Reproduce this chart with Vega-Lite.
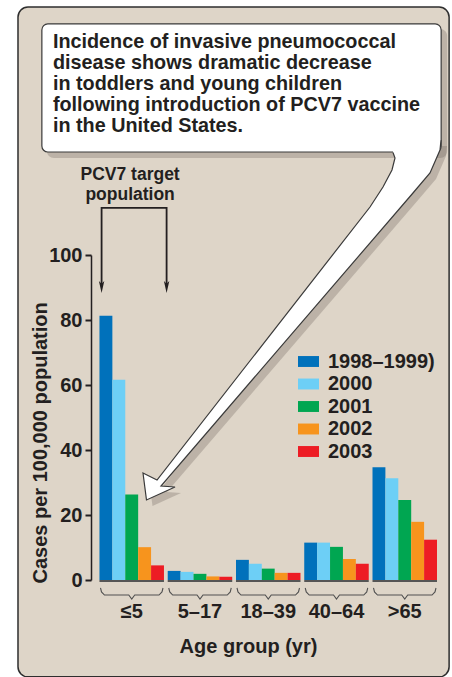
{
  "$schema": "https://vega.github.io/schema/vega-lite/v6.json",
  "width": 346,
  "height": 325,
  "autosize": {"type": "none"},
  "padding": {"left": 91, "top": 255, "right": 15, "bottom": 97},
  "background": "white",
  "config": {
    "view": {"stroke": null},
    "font": "Liberation Sans",
    "text": {"font": "Liberation Sans", "fontWeight": "bold", "color": "#231f20"}
  },
  "datasets": {
    "bars": [
      {"age": "≤5", "year": "1998–1999)", "cases": 81.3},
      {"age": "≤5", "year": "2000", "cases": 61.6},
      {"age": "≤5", "year": "2001", "cases": 26.3},
      {"age": "≤5", "year": "2002", "cases": 10.1},
      {"age": "≤5", "year": "2003", "cases": 4.5},
      {"age": "5–17", "year": "1998–1999)", "cases": 2.8},
      {"age": "5–17", "year": "2000", "cases": 2.5},
      {"age": "5–17", "year": "2001", "cases": 1.9},
      {"age": "5–17", "year": "2002", "cases": 1.1},
      {"age": "5–17", "year": "2003", "cases": 1.0},
      {"age": "18–39", "year": "1998–1999)", "cases": 6.2},
      {"age": "18–39", "year": "2000", "cases": 5.0},
      {"age": "18–39", "year": "2001", "cases": 3.5},
      {"age": "18–39", "year": "2002", "cases": 2.2},
      {"age": "18–39", "year": "2003", "cases": 2.2},
      {"age": "40–64", "year": "1998–1999)", "cases": 11.5},
      {"age": "40–64", "year": "2000", "cases": 11.5},
      {"age": "40–64", "year": "2001", "cases": 10.2},
      {"age": "40–64", "year": "2002", "cases": 6.5},
      {"age": "40–64", "year": "2003", "cases": 5.0},
      {"age": ">65", "year": "1998–1999)", "cases": 34.7},
      {"age": ">65", "year": "2000", "cases": 31.3},
      {"age": ">65", "year": "2001", "cases": 24.6},
      {"age": ">65", "year": "2002", "cases": 17.9},
      {"age": ">65", "year": "2003", "cases": 12.4}
    ],
    "groups": [
      {"age": "≤5"}, {"age": "5–17"}, {"age": "18–39"}, {"age": "40–64"}, {"age": ">65"}
    ],
    "panel": [{"u": -21.1, "u2": 103.5, "v": 176.3, "v2": -29.8}],
    "callout": [{"u": -14.2, "u2": 101.2, "v": 171.1, "v2": 131.7}],
    "calloutText": [
      {"u": -11.0, "v": 163.7, "t": "Incidence of invasive pneumococcal"},
      {"u": -11.0, "v": 157.2, "t": "disease shows dramatic decrease"},
      {"u": -11.0, "v": 150.8, "t": "in toddlers and young children"},
      {"u": -11.0, "v": 144.3, "t": "following introduction of PCV7 vaccine"},
      {"u": -11.0, "v": 137.8, "t": "in the United States."}
    ],
    "targetText": [
      {"u": 11.3, "v": 123.1, "t": "PCV7 target"},
      {"u": 11.3, "v": 116.8, "t": "population"}
    ],
    "bracket": [
      {"i": 0, "u": 3.06, "v": 90.8},
      {"i": 1, "u": 3.06, "v": 114.5},
      {"i": 2, "u": 21.85, "v": 114.5},
      {"i": 3, "u": 21.85, "v": 90.8}
    ],
    "bracketHeads": [
      {"u": 3.06, "v": 90.15},
      {"u": 21.85, "v": 90.15}
    ],
    "arrow": [
      {"i": 0, "u": 87.28, "v": 131.54},
      {"i": 1, "u": 87.86, "v": 129.85},
      {"i": 2, "u": 86.99, "v": 126.15},
      {"i": 3, "u": 84.39, "v": 120.92},
      {"i": 4, "u": 80.64, "v": 114.77},
      {"i": 5, "u": 19.08, "v": 30.77},
      {"i": 6, "u": 15.03, "v": 32.92},
      {"i": 7, "u": 16.04, "v": 24.62},
      {"i": 8, "u": 24.28, "v": 28.62},
      {"i": 9, "u": 20.23, "v": 28.92},
      {"i": 10, "u": 93.06, "v": 119.08},
      {"i": 11, "u": 97.98, "v": 125.23},
      {"i": 12, "u": 100.87, "v": 132.31},
      {"i": 13, "u": 101.16, "v": 135.38},
      {"i": 14, "u": 87.28, "v": 135.38}
    ],
    "braces": [
      {"g": 0, "i": 0, "u": 2.75, "v": -2.46}, {"g": 0, "i": 1, "u": 3.03, "v": -3.69}, {"g": 0, "i": 2, "u": 3.90, "v": -4.62},
      {"g": 0, "i": 3, "u": 10.91, "v": -4.62}, {"g": 0, "i": 4, "u": 11.78, "v": -5.85}, {"g": 0, "i": 5, "u": 12.64, "v": -4.62},
      {"g": 0, "i": 6, "u": 19.65, "v": -4.62}, {"g": 0, "i": 7, "u": 20.52, "v": -3.69}, {"g": 0, "i": 8, "u": 20.81, "v": -2.46},
      {"g": 1, "i": 0, "u": 22.47, "v": -2.46}, {"g": 1, "i": 1, "u": 22.76, "v": -3.69}, {"g": 1, "i": 2, "u": 23.62, "v": -4.62},
      {"g": 1, "i": 3, "u": 30.64, "v": -4.62}, {"g": 1, "i": 4, "u": 31.50, "v": -5.85}, {"g": 1, "i": 5, "u": 32.37, "v": -4.62},
      {"g": 1, "i": 6, "u": 39.38, "v": -4.62}, {"g": 1, "i": 7, "u": 40.25, "v": -3.69}, {"g": 1, "i": 8, "u": 40.53, "v": -2.46},
      {"g": 2, "i": 0, "u": 42.20, "v": -2.46}, {"g": 2, "i": 1, "u": 42.48, "v": -3.69}, {"g": 2, "i": 2, "u": 43.35, "v": -4.62},
      {"g": 2, "i": 3, "u": 50.36, "v": -4.62}, {"g": 2, "i": 4, "u": 51.23, "v": -5.85}, {"g": 2, "i": 5, "u": 52.09, "v": -4.62},
      {"g": 2, "i": 6, "u": 59.10, "v": -4.62}, {"g": 2, "i": 7, "u": 59.97, "v": -3.69}, {"g": 2, "i": 8, "u": 60.26, "v": -2.46},
      {"g": 3, "i": 0, "u": 61.92, "v": -2.46}, {"g": 3, "i": 1, "u": 62.21, "v": -3.69}, {"g": 3, "i": 2, "u": 63.07, "v": -4.62},
      {"g": 3, "i": 3, "u": 70.09, "v": -4.62}, {"g": 3, "i": 4, "u": 70.95, "v": -5.85}, {"g": 3, "i": 5, "u": 71.82, "v": -4.62},
      {"g": 3, "i": 6, "u": 78.83, "v": -4.62}, {"g": 3, "i": 7, "u": 79.70, "v": -3.69}, {"g": 3, "i": 8, "u": 79.98, "v": -2.46},
      {"g": 4, "i": 0, "u": 81.65, "v": -2.46}, {"g": 4, "i": 1, "u": 81.93, "v": -3.69}, {"g": 4, "i": 2, "u": 82.80, "v": -4.62},
      {"g": 4, "i": 3, "u": 89.81, "v": -4.62}, {"g": 4, "i": 4, "u": 90.68, "v": -5.85}, {"g": 4, "i": 5, "u": 91.54, "v": -4.62},
      {"g": 4, "i": 6, "u": 98.56, "v": -4.62}, {"g": 4, "i": 7, "u": 99.42, "v": -3.69}, {"g": 4, "i": 8, "u": 99.71, "v": -2.46}
    ]
  },
  "resolve": {"scale": {"x": "independent"}},
  "layer": [
    {
      "data": {"name": "panel"},
      "mark": {"type": "rect", "fill": "#ded5c8", "stroke": "#2e2e2e", "strokeWidth": 1.5, "cornerRadius": 10},
      "encoding": {
        "x": {"field": "u", "type": "quantitative", "scale": {"domain": [0, 100]}, "axis": null},
        "x2": {"field": "u2"},
        "y": {"field": "v", "type": "quantitative", "scale": {"domain": [0, 100]}, "title": "Cases per 100,000 population"},
        "y2": {"field": "v2"}
      }
    },
    {
      "data": {"name": "callout"},
      "mark": {"type": "rect", "fill": "#6e655c", "opacity": 0.3, "cornerRadius": 7, "xOffset": 5, "x2Offset": 6, "yOffset": 5, "y2Offset": 6},
      "encoding": {
        "x": {"field": "u", "type": "quantitative", "scale": {"domain": [0, 100]}, "axis": null},
        "x2": {"field": "u2"},
        "y": {"field": "v", "type": "quantitative", "scale": {"domain": [0, 100]}, "title": "Cases per 100,000 population"},
        "y2": {"field": "v2"}
      }
    },
    {
      "data": {"name": "arrow"},
      "mark": {"type": "line", "fill": "#6e655c", "stroke": null, "opacity": 0.3, "xOffset": 6, "yOffset": 6},
      "encoding": {
        "x": {"field": "u", "type": "quantitative", "scale": {"domain": [0, 100]}, "axis": null},
        "y": {"field": "v", "type": "quantitative", "scale": {"domain": [0, 100]}, "title": "Cases per 100,000 population"},
        "order": {"field": "i"}
      }
    },
    {
      "data": {"name": "callout"},
      "mark": {"type": "rect", "fill": "white", "stroke": "#3a3a3a", "strokeWidth": 1.2, "cornerRadius": 6},
      "encoding": {
        "x": {"field": "u", "type": "quantitative", "scale": {"domain": [0, 100]}, "axis": null},
        "x2": {"field": "u2"},
        "y": {"field": "v", "type": "quantitative", "scale": {"domain": [0, 100]}, "title": "Cases per 100,000 population"},
        "y2": {"field": "v2"}
      }
    },
    {
      "data": {"name": "arrow"},
      "mark": {"type": "line", "fill": "white", "stroke": null},
      "encoding": {
        "x": {"field": "u", "type": "quantitative", "scale": {"domain": [0, 100]}, "axis": null},
        "y": {"field": "v", "type": "quantitative", "scale": {"domain": [0, 100]}, "title": "Cases per 100,000 population"},
        "order": {"field": "i"}
      }
    },
    {
      "data": {"name": "arrow"},
      "transform": [{"filter": "datum.i <= 13"}],
      "mark": {"type": "line", "stroke": "#3a3a3a", "strokeWidth": 1.2, "strokeJoin": "miter"},
      "encoding": {
        "x": {"field": "u", "type": "quantitative", "scale": {"domain": [0, 100]}, "axis": null},
        "y": {"field": "v", "type": "quantitative", "scale": {"domain": [0, 100]}, "title": "Cases per 100,000 population"},
        "order": {"field": "i"}
      }
    },
    {
      "data": {"name": "calloutText"},
      "mark": {"type": "text", "align": "left", "baseline": "alphabetic", "fontSize": 19.8, "fontWeight": "bold", "font": "Liberation Sans", "color": "#231f20"},
      "encoding": {
        "x": {"field": "u", "type": "quantitative", "scale": {"domain": [0, 100]}, "axis": null},
        "y": {"field": "v", "type": "quantitative", "scale": {"domain": [0, 100]}, "title": "Cases per 100,000 population"},
        "text": {"field": "t"}
      }
    },
    {
      "data": {"name": "targetText"},
      "mark": {"type": "text", "align": "center", "baseline": "alphabetic", "fontSize": 17.5, "fontWeight": "bold", "font": "Liberation Sans", "color": "#231f20"},
      "encoding": {
        "x": {"field": "u", "type": "quantitative", "scale": {"domain": [0, 100]}, "axis": null},
        "y": {"field": "v", "type": "quantitative", "scale": {"domain": [0, 100]}, "title": "Cases per 100,000 population"},
        "text": {"field": "t"}
      }
    },
    {
      "data": {"name": "bracket"},
      "mark": {"type": "line", "stroke": "#231f20", "strokeWidth": 1.8, "strokeJoin": "miter"},
      "encoding": {
        "x": {"field": "u", "type": "quantitative", "scale": {"domain": [0, 100]}, "axis": null},
        "y": {"field": "v", "type": "quantitative", "scale": {"domain": [0, 100]}, "title": "Cases per 100,000 population"},
        "order": {"field": "i"}
      }
    },
    {
      "data": {"name": "bracketHeads"},
      "mark": {"type": "point", "shape": "M-0.45,-1L0,-0.55L0.45,-1L0,1Z", "size": 144, "filled": true, "color": "#231f20", "opacity": 1},
      "encoding": {
        "x": {"field": "u", "type": "quantitative", "scale": {"domain": [0, 100]}, "axis": null},
        "y": {"field": "v", "type": "quantitative", "scale": {"domain": [0, 100]}, "title": "Cases per 100,000 population"}
      }
    },
    {
      "data": {"name": "braces"},
      "mark": {"type": "line", "stroke": "#505050", "strokeWidth": 1.1},
      "encoding": {
        "x": {"field": "u", "type": "quantitative", "scale": {"domain": [0, 100]}, "axis": null},
        "y": {"field": "v", "type": "quantitative", "scale": {"domain": [0, 100]}, "title": "Cases per 100,000 population"},
        "detail": {"field": "g"},
        "order": {"field": "i"}
      }
    },
    {
      "data": {"name": "bars"},
      "mark": {"type": "bar"},
      "encoding": {
        "x": {
          "field": "age", "type": "nominal", "sort": ["≤5", "5–17", "18–39", "40–64", ">65"],
          "scale": {"paddingInner": 0.055, "paddingOuter": 0.062, "align": 1},
          "axis": {
            "title": "Age group (yr)", "labelAngle": 0, "ticks": false, "domain": false,
            "labelFont": "Liberation Sans", "labelFontWeight": "bold", "labelFontSize": 20, "labelColor": "#231f20", "labelPadding": 21,
            "titleFont": "Liberation Sans", "titleFontWeight": "bold", "titleFontSize": 20, "titleColor": "#231f20",
            "titleX": 157, "titleY": 72, "titleBaseline": "alphabetic", "titleAnchor": null, "titleAlign": "center", "zindex": 1
          }
        },
        "xOffset": {"field": "year", "type": "nominal", "sort": ["1998–1999)", "2000", "2001", "2002", "2003"], "scale": {"paddingInner": 0, "paddingOuter": 0}},
        "y": {
          "field": "cases", "type": "quantitative", "scale": {"domain": [0, 100]},
          "title": "Cases per 100,000 population",
          "axis": {
            "values": [0, 20, 40, 60, 80, 100], "grid": false,
            "labelFont": "Liberation Sans", "labelFontWeight": "bold", "labelFontSize": 20, "labelColor": "#231f20", "labelPadding": 3,
            "tickSize": 6, "tickWidth": 2, "tickColor": "#231f20", "domainColor": "#231f20", "domainWidth": 1.5,
            "titleFont": "Liberation Sans", "titleFontWeight": "bold", "titleFontSize": 20, "titleColor": "#231f20",
            "titleAngle": 270, "titleX": -51, "titleY": 328, "titleAlign": "left", "titleBaseline": "middle", "titleAnchor": null, "zindex": 1
          }
        },
        "color": {
          "field": "year", "type": "nominal",
          "scale": {"domain": ["1998–1999)", "2000", "2001", "2002", "2003"], "range": ["#0071bb", "#6dcff6", "#00a651", "#f7941d", "#ed1c24"]},
          "legend": {
            "orient": "none", "legendX": 207, "legendY": 96, "title": null, "padding": 0,
            "symbolType": "M-1,-0.52H1V0.52H-1Z", "symbolSize": 441, "symbolStrokeWidth": 0, "symbolOpacity": 1,
            "labelFont": "Liberation Sans", "labelFontWeight": "bold", "labelFontSize": 20, "labelColor": "#231f20",
            "labelOffset": 9, "rowPadding": 1.5
          }
        }
      }
    },
    {
      "data": {"name": "groups"},
      "mark": {"type": "bar", "color": "#555555"},
      "encoding": {
        "x": {"field": "age", "type": "nominal", "sort": ["≤5", "5–17", "18–39", "40–64", ">65"], "scale": {"paddingInner": 0.055, "paddingOuter": 0.062, "align": 1}, "axis": null},
        "y": {"datum": 0, "type": "quantitative", "scale": {"domain": [0, 100]}, "title": "Cases per 100,000 population"},
        "y2": {"datum": -0.6}
      }
    }
  ]
}
